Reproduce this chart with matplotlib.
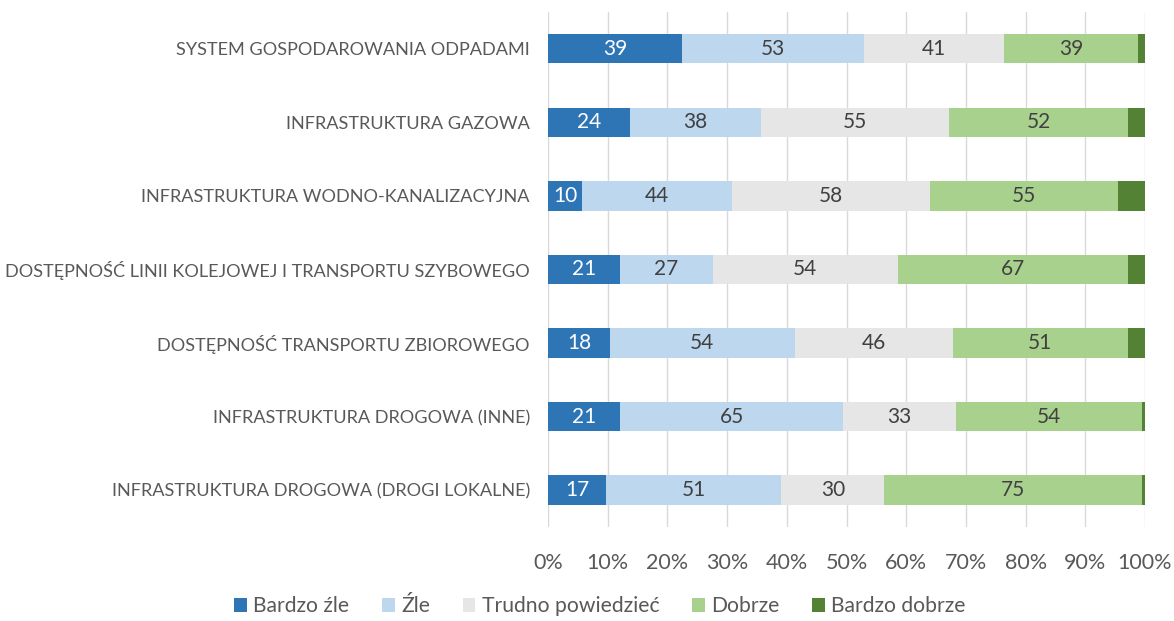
import matplotlib.pyplot as plt
import numpy as np
from matplotlib.ticker import PercentFormatter

categories = [
    "SYSTEM GOSPODAROWANIA ODPADAMI",
    "INFRASTRUKTURA GAZOWA",
    "INFRASTRUKTURA WODNO-KANALIZACYJNA",
    "DOSTĘPNOŚĆ LINII KOLEJOWEJ I TRANSPORTU SZYBOWEGO",
    "DOSTĘPNOŚĆ TRANSPORTU ZBIOROWEGO",
    "INFRASTRUKTURA DROGOWA (INNE)",
    "INFRASTRUKTURA DROGOWA (DROGI LOKALNE)",
]
series_names = ["Bardzo źle", "Źle", "Trudno powiedzieć", "Dobrze", "Bardzo dobrze"]
bardzo_zle = [39, 24, 10, 21, 18, 21, 17]
zle = [53, 38, 44, 27, 54, 65, 51]
trudno = [41, 55, 58, 54, 46, 33, 30]
dobrze = [39, 52, 55, 67, 51, 54, 75]
bardzo_dobrze = [2, 5, 8, 5, 5, 1, 1]

colors = ["#2E75B6", "#BDD7EE", "#E7E6E6", "#A9D18E", "#548235"]
text_colors = ["white", "#404040", "#404040", "#404040", None]

plt.rcParams["font.family"] = ["Lato", "DejaVu Sans"]

data = np.array([bardzo_zle, zle, trudno, dobrze, bardzo_dobrze], dtype=float)
totals = data.sum(axis=0)
shares = data / totals

fig = plt.figure(figsize=(11.74, 6.21), dpi=100)
ax = fig.add_axes([0.4668, 0.1514, 0.5085, 0.8293])

y = np.arange(len(categories))
left = np.zeros(len(categories))
for i, name in enumerate(series_names):
    bars = ax.barh(y, shares[i], left=left, height=0.4, color=colors[i],
                   label=name, zorder=3)
    if text_colors[i]:
        for b, v in zip(bars, data[i]):
            ax.text(b.get_x() + b.get_width() / 2, b.get_y() + b.get_height() / 2,
                    f"{int(v)}", ha="center", va="center", fontsize=15,
                    color=text_colors[i], zorder=4)
    left += shares[i]

ax.set_xlim(0, 1)
ax.set_ylim(len(categories) - 0.5, -0.5)
ax.set_yticks(y)
ax.set_yticklabels(categories, fontsize=13.1, color="#595959")
ax.xaxis.set_major_formatter(PercentFormatter(1.0, decimals=0))
ax.set_xticks(np.linspace(0, 1, 11))
ax.tick_params(axis="x", labelsize=15.5, colors="#595959", length=0, pad=19)
ax.tick_params(axis="y", length=0, pad=13)
ax.grid(axis="x", color="#D9D9D9", linewidth=1, zorder=0)
for s in ax.spines.values():
    s.set_visible(False)

fig.legend(loc="lower center", bbox_to_anchor=(0.511, -0.023), ncol=5, frameon=False,
           fontsize=15.2, handlelength=0.6, handleheight=0.6, handletextpad=0.3,
           columnspacing=1.55, labelcolor="#595959")

fig.savefig("out.png", dpi=100)
